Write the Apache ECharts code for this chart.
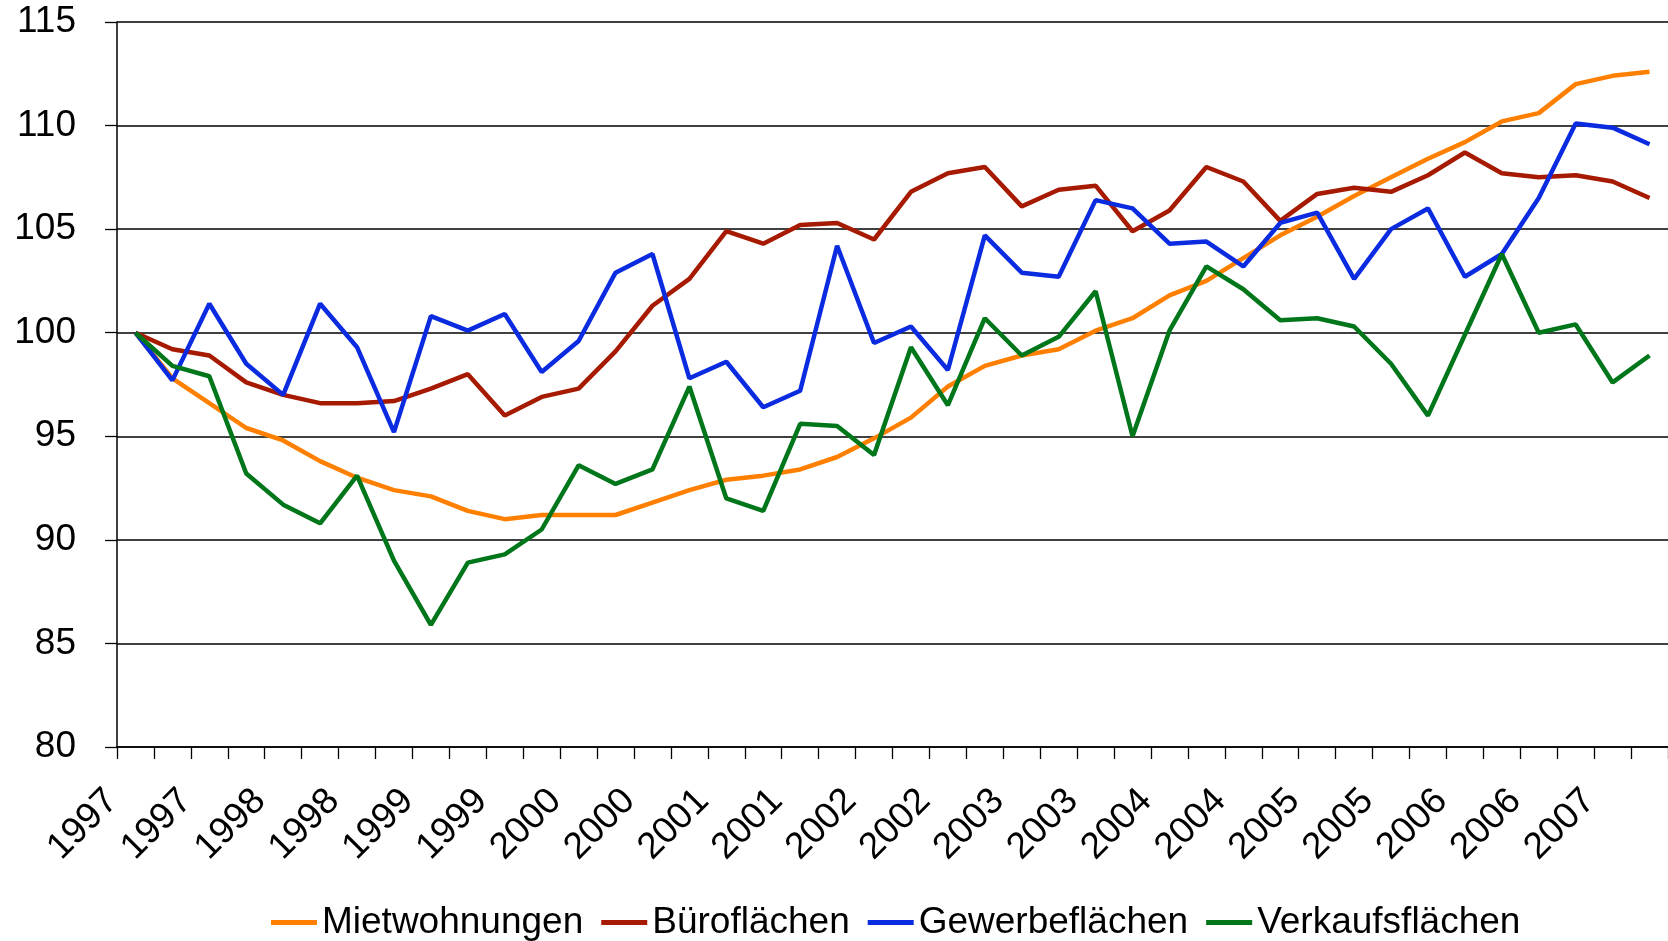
<!DOCTYPE html>
<html lang="de">
<head>
  <meta charset="UTF-8" />
  <title>Mietpreisindex</title>
  <script src="https://cdn.jsdelivr.net/npm/echarts@6/dist/echarts.min.js"></script>
  <style>
    html, body, #main {
      margin: 0; padding: 0; width: 100%; height: 100%;
      background: #ffffff;
    }
  </style>
</head>
<body>
  <div id="main"></div>
  <script>
    const chart = echarts.init(document.getElementById('main'));

    // Quartale 1997 Q1 bis 2007 Q2, beschriftet wird nur jedes zweite
    const quarters = [
      '1997', '1997', '1997', '1997', '1998', '1998', '1998', '1998',
      '1999', '1999', '1999', '1999', '2000', '2000', '2000', '2000',
      '2001', '2001', '2001', '2001', '2002', '2002', '2002', '2002',
      '2003', '2003', '2003', '2003', '2004', '2004', '2004', '2004',
      '2005', '2005', '2005', '2005', '2006', '2006', '2006', '2006',
      '2007', '2007'
    ];

    const mietwohnungen = [
      100, 97.8, 96.6, 95.4, 94.8, 93.8, 93.0, 92.4, 92.1, 91.4,
      91.0, 91.2, 91.2, 91.2, 91.8, 92.4, 92.9, 93.1, 93.4, 94.0,
      94.9, 95.9, 97.4, 98.4, 98.9, 99.2, 100.1, 100.7, 101.8, 102.5,
      103.6, 104.7, 105.6, 106.6, 107.5, 108.4, 109.2, 110.2, 110.6, 112.0,
      112.4, 112.6
    ];

    const bueroflaechen = [
      100, 99.2, 98.9, 97.6, 97.0, 96.6, 96.6, 96.7, 97.3, 98.0,
      96.0, 96.9, 97.3, 99.1, 101.3, 102.6, 104.9, 104.3, 105.2, 105.3,
      104.5, 106.8, 107.7, 108.0, 106.1, 106.9, 107.1, 104.9, 105.9, 108.0,
      107.3, 105.4, 106.7, 107.0, 106.8, 107.6, 108.7, 107.7, 107.5, 107.6,
      107.3, 106.5
    ];

    const gewerbeflaechen = [
      100, 97.7, 101.4, 98.5, 97.0, 101.4, 99.3, 95.2, 100.8, 100.1,
      100.9, 98.1, 99.6, 102.9, 103.8, 97.8, 98.6, 96.4, 97.2, 104.2,
      99.5, 100.3, 98.2, 104.7, 102.9, 102.7, 106.4, 106.0, 104.3, 104.4,
      103.2, 105.3, 105.8, 102.6, 105.0, 106.0, 102.7, 103.8, 106.5, 110.1,
      109.9, 109.1
    ];

    const verkaufsflaechen = [
      100, 98.4, 97.9, 93.2, 91.7, 90.8, 93.1, 89.0, 85.9, 88.9,
      89.3, 90.5, 93.6, 92.7, 93.4, 97.4, 92.0, 91.4, 95.6, 95.5,
      94.1, 99.3, 96.5, 100.7, 98.9, 99.8, 102.0, 95.0, 100.1, 103.2,
      102.1, 100.6, 100.7, 100.3, 98.5, 96.0, 99.9, 103.8, 100.0, 100.4,
      97.6, 98.9
    ];

    const seriesNames = ['Mietwohnungen', 'Büroflächen', 'Gewerbeflächen', 'Verkaufsflächen'];
    const seriesColors = ['#ff8000', '#a51a00', '#0a2be0', '#00761a'];
    const seriesValues = [mietwohnungen, bueroflaechen, gewerbeflaechen, verkaufsflaechen];

    const font = "'Liberation Sans', Arial, sans-serif";

    chart.setOption({
      animation: false,
      textStyle: { fontFamily: font },
      grid: {
        left: 117,
        top: 22,
        right: -6,
        bottom: 194
      },
      legend: {
        left: 271,
        top: 904,
        padding: 0,
        icon: 'rect',
        itemWidth: 46,
        itemHeight: 5,
        itemGap: 18,
        data: seriesNames,
        textStyle: { fontSize: 37, color: '#000', fontFamily: font }
      },
      xAxis: {
        type: 'category',
        data: quarters,
        boundaryGap: true,
        axisLine: { lineStyle: { color: '#000', width: 1.5 } },
        axisTick: { show: true, interval: 0, length: 12, lineStyle: { color: '#000', width: 1.3 } },
        axisLabel: {
          interval: 1,
          rotate: 45,
          margin: 25,
          padding: [0, 33, 0, 0],
          fontSize: 37,
          color: '#000',
          fontFamily: font
        },
        splitLine: { show: false }
      },
      yAxis: {
        type: 'value',
        min: 80,
        max: 115,
        interval: 5,
        axisLine: { show: true, lineStyle: { color: '#000', width: 1.5 } },
        axisTick: { show: true, length: 12, lineStyle: { color: '#000', width: 1.3 } },
        axisLabel: { fontSize: 37, color: '#000', margin: 41, fontFamily: font },
        splitLine: { show: true, lineStyle: { color: '#000', width: 1.5 } }
      },
      series: seriesNames.map((name, i) => ({
        name: name,
        type: 'line',
        data: seriesValues[i],
        symbol: 'none',
        color: seriesColors[i],
        lineStyle: { width: 4.5, color: seriesColors[i] }
      }))
    });
  </script>
</body>
</html>
